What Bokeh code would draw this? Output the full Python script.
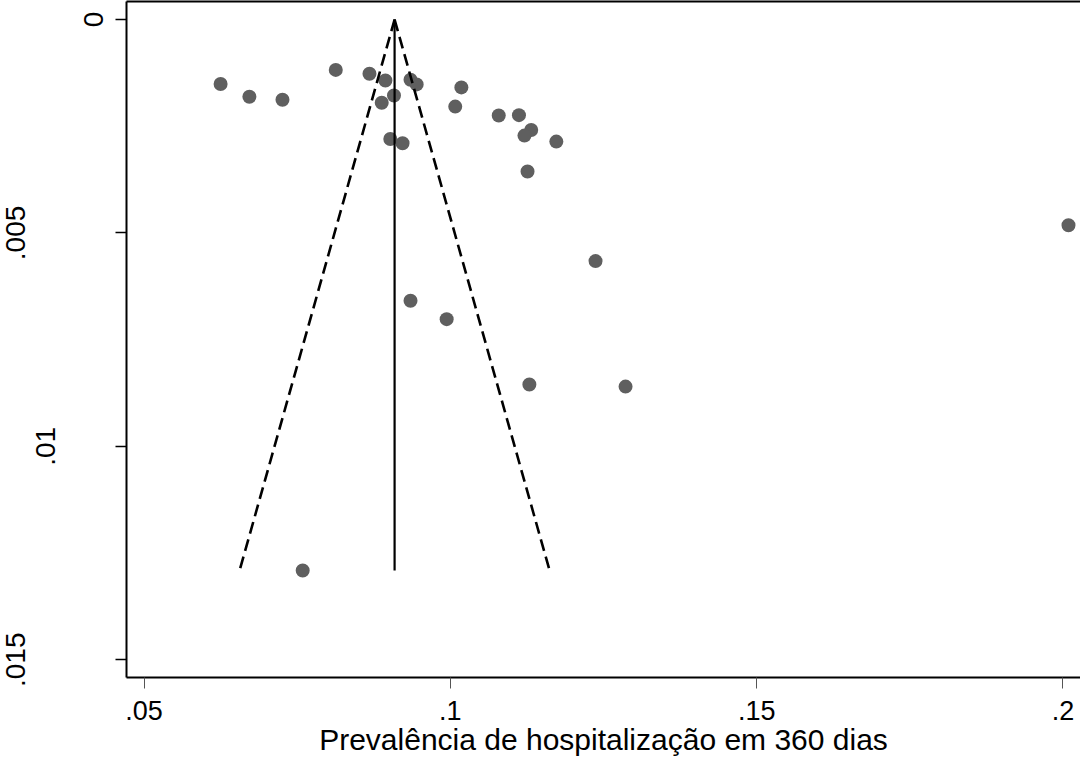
import math
from bokeh.plotting import figure
from bokeh.models import (Range1d, LinearAxis, FixedTicker, CustomJSTickFormatter, ColumnDataSource)
from bokeh.embed import file_html
from bokeh.resources import INLINE

# ---- data ----
effect = [0.0625, 0.0672, 0.0726, 0.0813, 0.0868, 0.0894, 0.0908, 0.0888, 0.0935, 0.0945,
          0.1018, 0.1008, 0.0902, 0.0922, 0.1079, 0.1112, 0.1132, 0.1121, 0.1173, 0.1126,
          0.2009, 0.1237, 0.0935, 0.0994, 0.1129, 0.1286, 0.0759]
std_err = [0.00151, 0.00181, 0.00188, 0.00118, 0.00127, 0.00143, 0.00178, 0.00195, 0.00141, 0.00152,
           0.00159, 0.00204, 0.00280, 0.00290, 0.00225, 0.00224, 0.00259, 0.00272, 0.00286, 0.00356,
           0.00482, 0.00566, 0.00659, 0.00702, 0.00855, 0.00860, 0.01291]
pooled_estimate = 0.0909
z_crit = 1.96

x_tick_values = [0.05, 0.1, 0.15, 0.2]
x_tick_labels = [".05", ".1", ".15", ".2"]
y_tick_values = [0.0, 0.005, 0.01, 0.015]
y_tick_labels = ["0", ".005", ".01", ".015"]
x_title = "Prevalência de hospitalização em 360 dias"

# ---- styles / positions ----
FONT = "Liberation Sans"
POINT_COLOR = "#5f5f5f"
# reference staggers the rotated y labels horizontally: group 0 nearest the axis
y_label_group = [0, 2, 1, 2]
y_group_standoff = [13, 25, 8]

LOOKUP = "const i = vals.findIndex(v => Math.abs(v - tick) < 1e-9); return i >= 0 ? labs[i] : '';"

p = figure(width=1080, height=758, output_backend="svg", toolbar_location=None,
           x_range=Range1d(0.04714, 0.20286), y_range=Range1d(0.015415, -0.000422),
           x_axis_type=None, y_axis_type=None)
p.min_border = 0
p.min_border_left = 126
p.min_border_right = 0
p.min_border_top = 1
p.min_border_bottom = 81
p.outline_line_color = None
p.background_fill_color = "white"
p.border_fill_color = "white"
p.xgrid.visible = False
p.ygrid.visible = False

src = ColumnDataSource(dict(x=effect, y=std_err))
p.scatter("x", "y", source=src, size=14, marker="circle",
          fill_color=POINT_COLOR, line_color=None)

se_max = max(std_err)
lo = pooled_estimate - z_crit * se_max
hi = pooled_estimate + z_crit * se_max
p.line([pooled_estimate, pooled_estimate], [0, se_max], line_color="black", line_width=2.2)
p.line([pooled_estimate, lo], [0, se_max], line_color="black", line_width=2.6, line_dash="12 6")
p.line([pooled_estimate, hi], [0, se_max], line_color="black", line_width=2.6, line_dash="12 6")

# bottom axis
xfmt = CustomJSTickFormatter(args=dict(vals=x_tick_values, labs=x_tick_labels), code=LOOKUP)
xaxis = LinearAxis(ticker=FixedTicker(ticks=x_tick_values), formatter=xfmt,
                   axis_label=x_title,
                   axis_line_width=2, axis_line_color="black",
                   major_tick_out=11, major_tick_in=0, major_tick_line_color="#555555", major_tick_line_width=1,
                   minor_tick_line_color=None,
                   major_label_standoff=12,
                   major_label_text_font=FONT, major_label_text_font_size="27px", major_label_text_color="black",
                   axis_label_standoff=0,
                   axis_label_text_font=FONT, axis_label_text_font_size="30px",
                   axis_label_text_font_style="normal", axis_label_text_color="black")
p.add_layout(xaxis, "below")

# left axes: one per label group, innermost first
for g, standoff in enumerate(y_group_standoff):
    vals = [v for v, gg in zip(y_tick_values, y_label_group) if gg == g]
    labs = [t for t, gg in zip(y_tick_labels, y_label_group) if gg == g]
    fmt = CustomJSTickFormatter(args=dict(vals=vals, labs=labs), code=LOOKUP)
    if g == 0:
        ax = LinearAxis(ticker=FixedTicker(ticks=y_tick_values), formatter=fmt,
                        axis_line_width=2, axis_line_color="black",
                        major_tick_out=11, major_tick_in=0, major_tick_line_color="black",
                        major_tick_line_width=1.5, minor_tick_line_color=None)
    else:
        ax = LinearAxis(ticker=FixedTicker(ticks=vals), formatter=fmt,
                        axis_line_color=None, major_tick_line_color=None,
                        major_tick_out=0, major_tick_in=0, minor_tick_line_color=None)
    ax.major_label_standoff = standoff
    ax.major_label_orientation = "vertical"
    ax.major_label_text_font = FONT
    ax.major_label_text_font_size = "28px"
    ax.major_label_text_color = "black"
    p.add_layout(ax, "left")

# top frame line
top = LinearAxis(ticker=FixedTicker(ticks=[]), formatter=CustomJSTickFormatter(code="return '';"),
                 axis_line_width=2, axis_line_color="black",
                 major_tick_line_color=None, minor_tick_line_color=None)
p.add_layout(top, "above")

open("out.html", "w").write(file_html(p, INLINE))
